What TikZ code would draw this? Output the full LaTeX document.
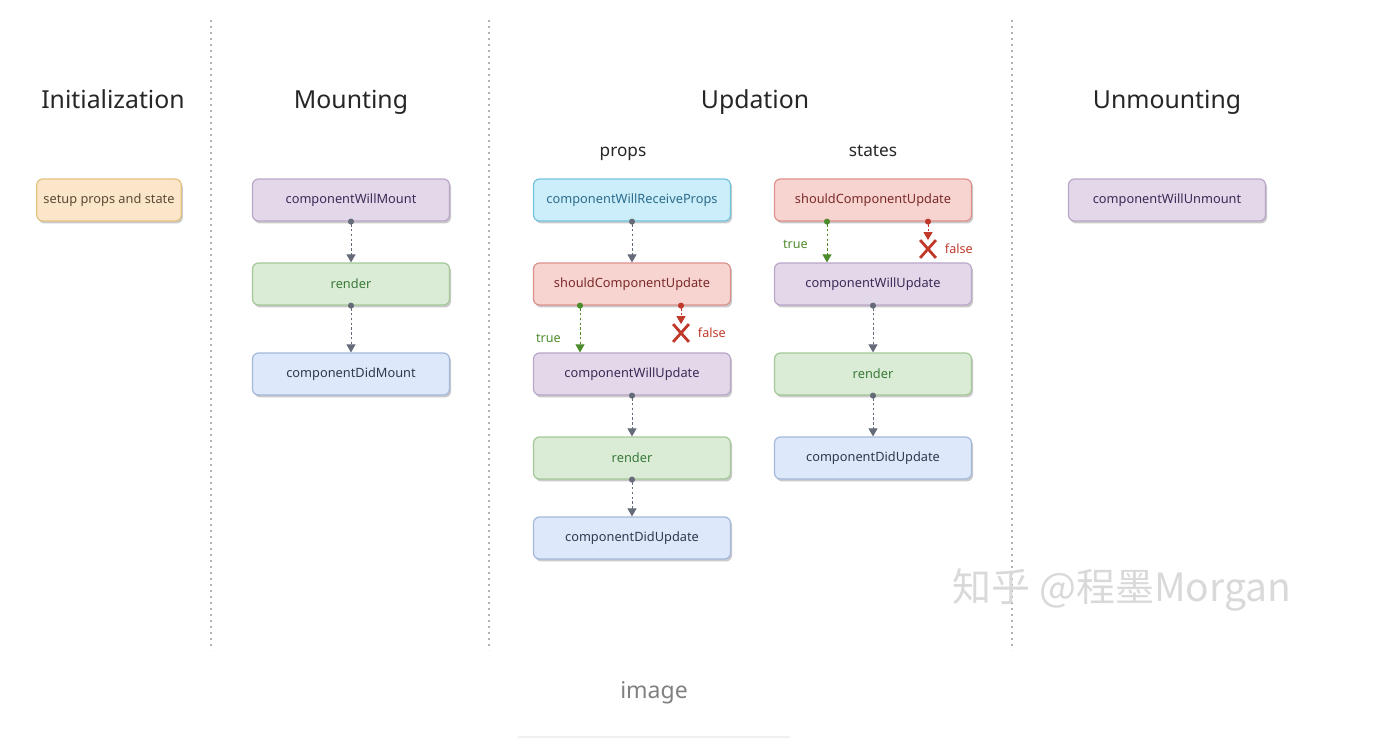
\documentclass[tikz,border=0pt]{standalone}
\usepackage{fontspec}
\setmainfont{Noto Sans}
\newfontfamily\cjk{Noto Sans CJK SC}
\usetikzlibrary{arrows.meta,shadows,shapes.misc}

\definecolor{orFill}{HTML}{FCE6C9}\definecolor{orLine}{HTML}{E3C27E}\definecolor{orText}{HTML}{5A4A35}
\definecolor{puFill}{HTML}{E3D7EA}\definecolor{puLine}{HTML}{B9A6C9}\definecolor{puText}{HTML}{3B2B57}
\definecolor{grFill}{HTML}{DAEBD6}\definecolor{grLine}{HTML}{A3C996}\definecolor{grText}{HTML}{3A7A3A}
\definecolor{blFill}{HTML}{DDE8FA}\definecolor{blLine}{HTML}{A3B8DA}\definecolor{blText}{HTML}{2F3A4F}
\definecolor{cyFill}{HTML}{CBEEFA}\definecolor{cyLine}{HTML}{72C4DF}\definecolor{cyText}{HTML}{2C6C8C}
\definecolor{reFill}{HTML}{F8D4D1}\definecolor{reLine}{HTML}{DB918B}\definecolor{reText}{HTML}{7A2A2A}
\definecolor{flowGray}{HTML}{656B78}
\definecolor{trueCol}{HTML}{4C8B2B}
\definecolor{falseCol}{HTML}{C0392B}

\tikzset{
  box/.style={draw, rounded corners=3pt, minimum width=98.5pt, minimum height=21pt,
    line width=0.6pt, font=\fontsize{6.4}{8}\selectfont,
    drop shadow={shadow xshift=0.8pt, shadow yshift=-1.2pt, opacity=0.35, fill=black!60}},
  orbox/.style={box, fill=orFill, draw=orLine, text=orText, minimum width=72pt},
  pubox/.style={box, fill=puFill, draw=puLine, text=puText},
  grbox/.style={box, fill=grFill, draw=grLine, text=grText},
  blbox/.style={box, fill=blFill, draw=blLine, text=blText},
  cybox/.style={box, fill=cyFill, draw=cyLine, text=cyText},
  rebox/.style={box, fill=reFill, draw=reLine, text=reText},
  flow/.style={draw=flowGray, line width=0.5pt, dash pattern=on 1.2pt off 1.2pt,
    shorten <=-1.5pt, {Circle[length=3pt]}-{Triangle[length=4pt,width=4.5pt]}},
  phase/.style={font=\fontsize{12.4}{14}\selectfont, text=black!85, anchor=base},
  sub/.style={font=\fontsize{8.6}{10}\selectfont, text=black!85, anchor=base},
  divider/.style={draw=gray!60, line width=0.6pt, dash pattern=on 1pt off 2pt},
  nope/.style={cross out, draw=falseCol, line width=1.4pt, minimum width=6.5pt,
    minimum height=7.5pt, inner sep=0pt},
  lbl/.style={font=\fontsize{6.3}{8}\selectfont}
}

\begin{document}
\begin{tikzpicture}[x=0.5pt, y=-0.5pt]

  \useasboundingbox (0,0) rectangle (1386,744);

  \newcommand\XI{109};
  \newcommand\XM{351};
  \newcommand\XP{632};
  \newcommand\XS{873};
  \newcommand\XU{1167};

  \newcommand\YA{200};
  \newcommand\YB{284};
  \newcommand\YC{374};
  \newcommand\YD{458};
  \newcommand\YE{538};

  % phase dividers
  \foreach \x in {211, 489, 1012}
    \draw[divider] (\x, 20) -- (\x, 650);

  % phase titles
  \node[phase] (tInit) at (113, 108) {Initialization};
  \node[phase] (tMount) at (\XM, 108) {Mounting};
  \node[phase] (tUpd) at (755, 108) {Updation};
  \node[phase] (tUnm) at (\XU, 108) {Unmounting};
  \node[sub] (tProps) at (623, 156) {props};
  \node[sub] (tStates) at (873, 156) {states};

  % initialization
  \node[orbox] (setup) at (\XI, \YA) {setup props and state};

  % mounting
  \node[pubox] (mWill) at (\XM, \YA) {componentWillMount};
  \node[grbox] (mRender) at (\XM, \YB) {render};
  \node[blbox] (mDid) at (\XM, \YC) {componentDidMount};

  \draw[flow] (mWill.south) -- (mRender.north);
  \draw[flow] (mRender.south) -- (mDid.north);

  % updation: props
  \node[cybox] (pRecv) at (\XP, \YA) {componentWillReceiveProps};
  \node[rebox] (pShould) at (\XP, \YB) {shouldComponentUpdate};
  \node[pubox] (pWill) at (\XP, \YC) {componentWillUpdate};
  \node[grbox] (pRender) at (\XP, \YD) {render};
  \node[blbox] (pDid) at (\XP, \YE) {componentDidUpdate};
  \node[nope, label={[lbl, text=falseCol, label distance=1pt]right:false}]
    (pNo) at (681, 333) {};

  \draw[flow] (pRecv.south) -- (pShould.north);
  \draw[flow, draw=trueCol] ([xshift=-26pt]pShould.south)
    -- node[lbl, pos=0.7, left, xshift=-6pt, text=trueCol]{true}
    ([xshift=-26pt]pWill.north);
  \draw[flow, draw=falseCol] ([xshift=24.5pt]pShould.south) -- (pNo.north);
  \draw[flow] (pWill.south) -- (pRender.north);
  \draw[flow] (pRender.south) -- (pDid.north);

  % updation: states
  \node[rebox] (sShould) at (\XS, \YA) {shouldComponentUpdate};
  \node[pubox] (sWill) at (\XS, \YB) {componentWillUpdate};
  \node[grbox] (sRender) at (\XS, \YC) {render};
  \node[blbox] (sDid) at (\XS, \YD) {componentDidUpdate};
  \node[nope, label={[lbl, text=falseCol, label distance=1pt]right:false}]
    (sNo) at (928, 249) {};

  \draw[flow, draw=trueCol] ([xshift=-23pt]sShould.south)
    -- node[lbl, pos=0.55, left, xshift=-6pt, text=trueCol]{true}
    ([xshift=-23pt]sWill.north);
  \draw[flow, draw=falseCol] ([xshift=27.5pt]sShould.south) -- (sNo.north);
  \draw[flow] (sWill.south) -- (sRender.north);
  \draw[flow] (sRender.south) -- (sDid.north);

  % unmounting
  \node[pubox] (uWill) at (\XU, \YA) {componentWillUnmount};

  % watermark and caption
  \node[font=\cjk\fontsize{19.5}{22}\selectfont, text=gray!30] (mark) at (1122, 590)
    {知乎 @程墨Morgan};
  \node[font=\fontsize{11.5}{13}\selectfont, text=gray] (cap) at (654, 693) {image};
  \draw[line width=1pt, draw=gray!12] (518, 737) -- (790, 737);

\end{tikzpicture}
\end{document}
